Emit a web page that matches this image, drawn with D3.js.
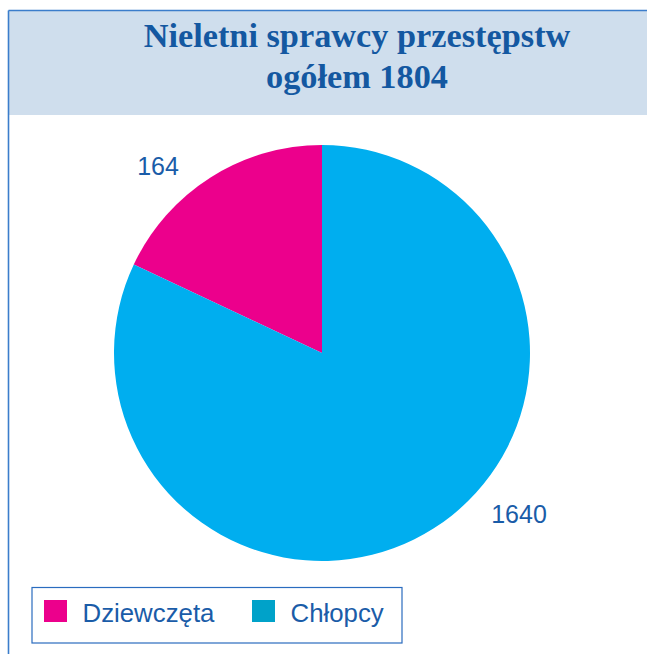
<!DOCTYPE html>
<html>
<head>
<meta charset="utf-8">
<script src="https://cdn.jsdelivr.net/npm/d3@7"></script>
<style>
  html, body { margin: 0; padding: 0; background: #fff; }
</style>
</head>
<body>
<script>
// data
var categories = ["Dziewczęta", "Chłopcy"];
var counts = [164, 1640];
// slice shares as drawn in the picture (percent)
var sliceShares = [18, 82];
var titleLines = ["Nieletni sprawcy przestępstw", "ogółem 1804"];
var colors = ["#ec008c", "#00aeef"];
var legendColors = ["#ec008c", "#00a2c9"];

var w = 647, h = 654;
var textBlue = "#1a5ca8";

var svg = d3.select("body").append("svg")
  .attr("width", w).attr("height", h);

// title band
svg.append("rect")
  .attr("x", 8.5).attr("y", 10.5).attr("width", w).attr("height", 104.5)
  .style("fill", "#cfdeed");

// frame lines
svg.append("line")
  .attr("x1", 8.5).attr("y1", 10.5).attr("x2", w).attr("y2", 10.5)
  .style("stroke", "#3b7dcb").style("stroke-width", 1.6);
svg.append("line")
  .attr("x1", 8.5).attr("y1", 10.5).attr("x2", 8.5).attr("y2", h)
  .style("stroke", "#3b7dcb").style("stroke-width", 1.6);

svg.selectAll(".title")
  .data(titleLines)
  .enter().append("text")
  .attr("class", "title")
  .attr("x", 357)
  .attr("y", function(d, i) { return 47 + i * 41; })
  .attr("text-anchor", "middle")
  .style("font-family", "'Liberation Serif', 'Times New Roman', serif")
  .style("font-weight", "bold")
  .style("font-size", "34.3px")
  .style("fill", "#1458a1")
  .text(function(d) { return d; });

// pie
var cx = 322, cy = 353, r = 208;
var pie = d3.pie().sort(null)
  .startAngle(0).endAngle(-2 * Math.PI)
  .value(function(d) { return d; });
var arc = d3.arc().innerRadius(0).outerRadius(r);

var g = svg.append("g").attr("transform", "translate(" + cx + "," + cy + ")");
g.selectAll("path")
  .data(pie(sliceShares))
  .enter().append("path")
  .attr("d", arc)
  .style("fill", function(d, i) { return colors[i]; });

// value labels
var labelPos = [[158, 175], [519, 523]];
svg.selectAll(".val")
  .data(counts)
  .enter().append("text")
  .attr("class", "val")
  .attr("x", function(d, i) { return labelPos[i][0]; })
  .attr("y", function(d, i) { return labelPos[i][1]; })
  .attr("text-anchor", "middle")
  .style("font-family", "'Liberation Sans', Arial, sans-serif")
  .style("font-size", "25px")
  .style("fill", textBlue)
  .text(function(d) { return d; });

// legend
svg.append("rect")
  .attr("x", 32).attr("y", 587.5).attr("width", 370).attr("height", 55.5)
  .style("fill", "#fff").style("stroke", "#2a6cbf").style("stroke-width", 1.2);

var legendX = [44, 252];
var leg = svg.selectAll(".leg")
  .data(categories)
  .enter().append("g")
  .attr("class", "leg")
  .attr("transform", function(d, i) { return "translate(" + legendX[i] + ",600)"; });
leg.append("rect")
  .attr("width", 23).attr("height", 22)
  .style("fill", function(d, i) { return legendColors[i]; });
leg.append("text")
  .attr("x", 38.5).attr("y", 22)
  .style("font-family", "'Liberation Sans', Arial, sans-serif")
  .style("font-size", "25.8px")
  .style("fill", textBlue)
  .text(function(d) { return d; });
</script>
</body>
</html>
